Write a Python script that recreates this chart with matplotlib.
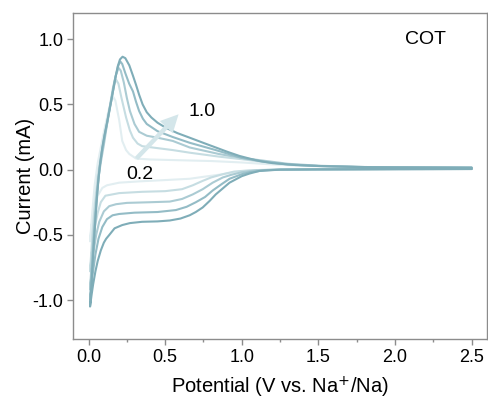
import matplotlib
matplotlib.use("Agg")
import matplotlib.pyplot as plt
from matplotlib.ticker import MultipleLocator, FuncFormatter

plt.rcParams['font.family'] = ['Liberation Sans', 'DejaVu Sans']

scan_rates = ["0.2", "0.4", "0.6", "0.8", "1.0"]
colors = ["#e2eef1", "#c6dde2", "#abcbd3", "#94bcc6", "#7fadb8"]

# ---- 0.2 mV/s : cathodic sweep (2.5 -> 0.01 V) then anodic sweep (0.01 -> 2.5 V)
v_02 = [2.5, 2.0, 1.5, 1.2, 1.05, 0.95, 0.876, 0.75, 0.66, 0.5, 0.33, 0.2, 0.12, 0.09, 0.06, 0.04, 0.02, 0.01,
        0.025, 0.04, 0.06, 0.08, 0.1, 0.13, 0.15, 0.16, 0.175, 0.2, 0.22, 0.245, 0.266, 0.31, 0.4, 0.6, 0.8,
        1.0, 1.2, 1.4, 1.6, 2.0, 2.5]
i_02 = [0.005, 0.004, 0.002, 0.0, -0.01, -0.02, -0.035, -0.055, -0.07, -0.08, -0.09, -0.10, -0.12, -0.14, -0.2, -0.3, -0.43, -0.55,
        -0.32, -0.12, 0.05, 0.17, 0.29, 0.45, 0.53, 0.56, 0.53, 0.38, 0.22, 0.15, 0.12, 0.085, 0.078, 0.072, 0.066,
        0.055, 0.04, 0.03, 0.022, 0.017, 0.015]

# ---- 0.4 mV/s
v_04 = [2.5, 2.0, 1.5, 1.2, 1.05, 0.95, 0.876, 0.8, 0.745, 0.68, 0.61, 0.5, 0.35, 0.2, 0.11, 0.08, 0.06, 0.04, 0.025, 0.01,
        0.025, 0.04, 0.06, 0.08, 0.1, 0.12, 0.15, 0.17, 0.18, 0.195, 0.215, 0.245, 0.27, 0.29, 0.32, 0.35, 0.45, 0.55,
        0.66, 0.85, 1.0, 1.1, 1.3, 1.5, 1.8, 2.5]
i_04 = [0.005, 0.004, 0.002, 0.0, -0.005, -0.015, -0.035, -0.06, -0.086, -0.12, -0.15, -0.165, -0.17, -0.18, -0.2, -0.25, -0.33, -0.45, -0.6, -0.78,
        -0.5, -0.28, -0.05, 0.1, 0.22, 0.36, 0.55, 0.66, 0.69, 0.66, 0.55, 0.40, 0.3, 0.245, 0.2, 0.18, 0.165, 0.15,
        0.13, 0.10, 0.08, 0.065, 0.04, 0.028, 0.02, 0.015]

# ---- 0.6 mV/s
v_06 = [2.5, 2.0, 1.5, 1.25, 1.1, 1.0, 0.93, 0.876, 0.81, 0.745, 0.68, 0.61, 0.53, 0.4, 0.25, 0.18, 0.135, 0.1, 0.07, 0.05, 0.03, 0.01,
        0.025, 0.04, 0.055, 0.07, 0.085, 0.1, 0.13, 0.16, 0.18, 0.196, 0.21, 0.23, 0.25, 0.27, 0.3, 0.33, 0.38, 0.45, 0.55,
        0.66, 0.85, 1.0, 1.1, 1.3, 1.5, 1.8, 2.5]
i_06 = [0.005, 0.004, 0.002, 0.0, -0.005, -0.02, -0.04, -0.06, -0.1, -0.15, -0.19, -0.225, -0.245, -0.25, -0.255, -0.265, -0.28, -0.32, -0.4, -0.5, -0.65, -0.92,
        -0.62, -0.38, -0.17, -0.02, 0.09, 0.19, 0.42, 0.63, 0.73, 0.78, 0.76, 0.67, 0.55, 0.45, 0.35, 0.29, 0.26, 0.245, 0.22,
        0.17, 0.12, 0.09, 0.075, 0.045, 0.03, 0.02, 0.015]

# ---- 0.8 mV/s
v_08 = [2.5, 2.0, 1.5, 1.25, 1.15, 1.05, 1.0, 0.92, 0.87, 0.81, 0.76, 0.70, 0.64, 0.57, 0.45, 0.3, 0.2, 0.157, 0.12, 0.09, 0.065, 0.045, 0.025, 0.01,
        0.02, 0.032, 0.045, 0.055, 0.065, 0.075, 0.09, 0.105, 0.124, 0.15, 0.175, 0.195, 0.207, 0.22, 0.24, 0.265, 0.29, 0.31, 0.33, 0.355, 0.38, 0.45, 0.55,
        0.66, 0.83, 1.0, 1.15, 1.3, 1.5, 1.8, 2.5]
i_08 = [0.005, 0.004, 0.002, 0.0, -0.005, -0.02, -0.035, -0.07, -0.11, -0.16, -0.21, -0.25, -0.285, -0.31, -0.325, -0.33, -0.34, -0.35, -0.38, -0.44, -0.53, -0.65, -0.82, -1.0,
        -0.82, -0.58, -0.36, -0.2, -0.07, 0.04, 0.16, 0.26, 0.37, 0.54, 0.71, 0.80, 0.83, 0.81, 0.74, 0.66, 0.60, 0.52, 0.45, 0.39, 0.35, 0.295, 0.25,
        0.206, 0.15, 0.09, 0.06, 0.04, 0.028, 0.02, 0.015]

# ---- 1.0 mV/s
v_10 = [2.5, 2.0, 1.5, 1.25, 1.115, 1.05, 1.0, 0.96, 0.92, 0.875, 0.83, 0.79, 0.745, 0.70, 0.66, 0.6, 0.53, 0.45, 0.35, 0.27, 0.22, 0.19, 0.17, 0.136, 0.115, 0.1, 0.08, 0.06, 0.045, 0.03, 0.02, 0.01,
        0.02, 0.032, 0.045, 0.055, 0.065, 0.075, 0.09, 0.105, 0.124, 0.15, 0.175, 0.19, 0.205, 0.222, 0.24, 0.266, 0.29, 0.31, 0.33, 0.353, 0.38, 0.41, 0.45, 0.506, 0.58,
        0.66, 0.75, 0.83, 0.91, 0.985, 1.05, 1.115, 1.2, 1.35, 1.5, 1.75, 2.0, 2.5]
i_10 = [0.005, 0.004, 0.002, 0.0, -0.01, -0.03, -0.05, -0.075, -0.10, -0.145, -0.19, -0.24, -0.29, -0.325, -0.35, -0.375, -0.39, -0.397, -0.40, -0.41, -0.425, -0.44, -0.45, -0.50, -0.53, -0.56, -0.62, -0.70, -0.78, -0.88, -0.96, -1.05,
        -0.86, -0.62, -0.38, -0.21, -0.07, 0.04, 0.17, 0.27, 0.38, 0.54, 0.70, 0.79, 0.845, 0.866, 0.855, 0.80, 0.72, 0.65, 0.575, 0.50, 0.44, 0.40, 0.36, 0.32, 0.28,
        0.245, 0.205, 0.17, 0.135, 0.105, 0.085, 0.066, 0.05, 0.035, 0.028, 0.02, 0.017, 0.015]

curves_v = [v_02, v_04, v_06, v_08, v_10]
curves_i = [i_02, i_04, i_06, i_08, i_10]

fig = plt.figure(figsize=(4.88, 3.99), dpi=100)
ax = fig.add_axes([0.150, 0.150, 0.848, 0.817])

for v, i, c in zip(curves_v, curves_i, colors):
    ax.plot(v, i, color=c, lw=1.5, solid_joinstyle='round', solid_capstyle='round')

ax.annotate("", xy=(0.60, 0.44), xytext=(0.30, 0.07),
            arrowprops=dict(arrowstyle="simple,head_length=0.8,head_width=0.8,tail_width=0.2",
                            mutation_scale=16, color="#d4e6ea", lw=0))
ax.text(0.65, 0.445, scan_rates[-1], fontsize=14, ha='left', va='center')
ax.text(0.245, -0.04, scan_rates[0], fontsize=14, ha='left', va='center')
ax.text(2.2, 1.0, "COT", fontsize=14, ha='center', va='center')

ax.set_xlim(-0.1, 2.6)
ax.set_ylim(-1.3, 1.2)
ax.xaxis.set_major_locator(MultipleLocator(0.5))
ax.xaxis.set_minor_locator(MultipleLocator(0.25))
ax.yaxis.set_major_locator(MultipleLocator(0.5))
ax.xaxis.set_major_formatter(FuncFormatter(lambda x, p: f"{x:.1f}"))
ax.yaxis.set_major_formatter(FuncFormatter(lambda y, p: f"{y:.1f}"))

for s in ax.spines.values():
    s.set_color("#8c8c8c")
    s.set_linewidth(1.0)
ax.tick_params(axis='both', which='major', direction='out', length=4, width=1,
               color="#8c8c8c", labelsize=13, pad=3)
ax.tick_params(axis='x', which='minor', direction='out', length=2.5, width=1, color="#8c8c8c")

ax.set_xlabel("Potential (V vs. Na$^{+}$/Na)", fontsize=14.5, labelpad=6)
ax.set_ylabel("Current (mA)", fontsize=14.5, labelpad=-2)

fig.savefig("out.png", dpi=100)
